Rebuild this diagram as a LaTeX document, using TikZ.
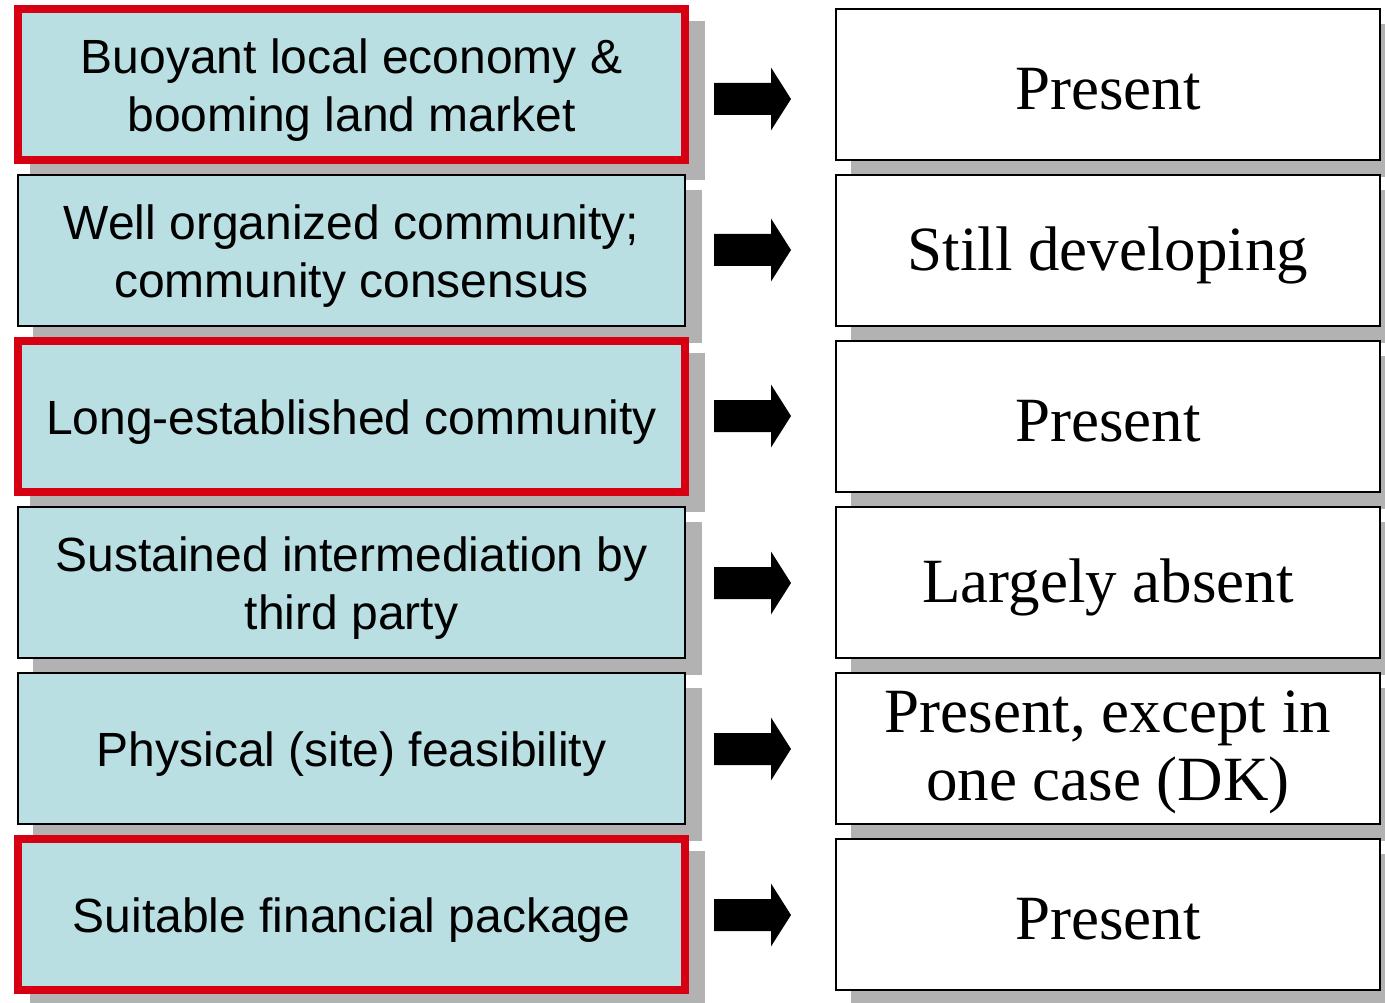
\documentclass[tikz,border=0pt]{standalone}
\usepackage{fontspec}
\setmainfont{Liberation Serif}
\setsansfont{Liberation Sans}
\usetikzlibrary{backgrounds}

\definecolor{boxcyan}{RGB}{185,223,227}
\definecolor{hilite}{RGB}{214,0,18}
\definecolor{shadowgray}{RGB}{178,178,178}

\tikzset{
  factor/.style={draw=black, line width=1.5pt, fill=boxcyan,
    minimum width=667pt, minimum height=151pt, inner sep=0pt},
  keyfactor/.style={factor, draw=hilite, line width=7.5pt},
  status/.style={draw=black, line width=1.5pt, fill=white,
    minimum width=544pt, minimum height=151pt, inner sep=0pt},
  factortext/.style={font=\sffamily\fontsize{48}{58}\selectfont, align=center, inner sep=0pt},
  statustext/.style={font=\fontsize{63}{68}\selectfont, align=center, inner sep=0pt},
  dropshadow/.style={fill=shadowgray},
  blockarrow/.style={fill=black}
}

\begin{document}
\begin{tikzpicture}[x=1pt,y=-1pt]
\useasboundingbox (0,0) rectangle (1385,1003);

% left column: conditions
\node[keyfactor] (f1) at (351.5, 84.5) {};
\node[factor]    (f2) at (351.5,250.5) {};
\node[keyfactor] (f3) at (351.5,416.5) {};
\node[factor]    (f4) at (351.5,582.5) {};
\node[factor]    (f5) at (351.5,748.5) {};
\node[keyfactor] (f6) at (351.5,914.5) {};

% right column: status
\node[status] (s1) at (1108, 84.5) {};
\node[status] (s2) at (1108,250.5) {};
\node[status] (s3) at (1108,416.5) {};
\node[status] (s4) at (1108,582.5) {};
\node[status] (s5) at (1108,748.5) {};
\node[status] (s6) at (1108,914.5) {};

% box texts
\node[factortext] (ft1) at ([yshift=-6pt]f1.center) {Buoyant local economy \&\\booming land market};
\node[factortext] (ft2) at ([yshift=-6pt]f2.center) {Well organized community;\\community consensus};
\node[factortext] (ft3) at ([yshift=-6pt]f3.center) {Long-established community};
\node[factortext] (ft4) at ([yshift=-6pt]f4.center) {Sustained intermediation by\\third party};
\node[factortext] (ft5) at ([yshift=-6pt]f5.center) {Physical (site) feasibility};
\node[factortext] (ft6) at ([yshift=-6pt]f6.center) {Suitable financial package};

\node[statustext] (st1) at ([yshift=-5pt]s1.center) {Present};
\node[statustext] (st2) at ([yshift=-5pt]s2.center) {Still developing};
\node[statustext] (st3) at ([yshift=-5pt]s3.center) {Present};
\node[statustext] (st4) at ([yshift=-5pt]s4.center) {Largely absent};
\node[statustext] (st5) at ([yshift=-4pt]s5.center) {Present, except in\\one case (DK)};
\node[statustext] (st6) at ([yshift=-5pt]s6.center) {Present};

% drop shadows behind every box
\begin{scope}[on background layer]
  \foreach \b in {f1,f2,f3,f4,f5,f6,s1,s2,s3,s4,s5,s6}
    \fill[dropshadow] ([shift={(16,16)}]\b.north west) rectangle ([shift={(16,16)}]\b.south east);
\end{scope}

% block arrows between the columns
\foreach \i/\yy in {1/99,2/250,3/416,4/583,5/749,6/915} {
  \coordinate (ar\i) at (714,\yy);
  \fill[blockarrow] (ar\i) ++(0,-16) -- ++(57,0) -- ++(0,-15.5) -- ++(20,31.5)
    -- ++(-20,31.5) -- ++(0,-15.5) -- ++(-57,0) -- cycle;
}
\end{tikzpicture}
\end{document}
